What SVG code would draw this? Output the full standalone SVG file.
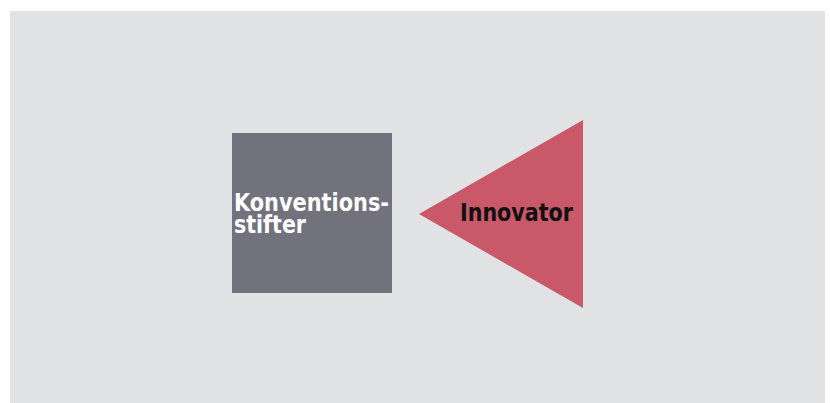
<svg xmlns="http://www.w3.org/2000/svg" width="830" height="403" viewBox="0 0 830 403">
  <style>
    .label { font-family: "DejaVu Sans", "Liberation Sans", sans-serif; font-stretch: condensed; font-weight: bold; font-size: 24px; }
    .light { fill: #ffffff; }
    .dark { fill: #111111; }
  </style>
  <rect x="0" y="0" width="830" height="403" fill="#ffffff"/>
  <rect x="10" y="11" width="815" height="392" fill="#e1e2e4"/>
  <g id="konventionsstifter">
    <rect x="232" y="133" width="160" height="160" fill="#71727b"/>
    <text class="label light" x="234" y="211" textLength="155" lengthAdjust="spacingAndGlyphs">Konventions-</text>
    <text class="label light" x="234" y="233" textLength="72" lengthAdjust="spacingAndGlyphs">stifter</text>
  </g>
  <g id="innovator">
    <polygon points="419,214 583,120 583,308" fill="#c95869"/>
    <text class="label dark" x="460" y="221" textLength="113" lengthAdjust="spacingAndGlyphs">Innovator</text>
  </g>
  <g id="connectors"></g>
</svg>
